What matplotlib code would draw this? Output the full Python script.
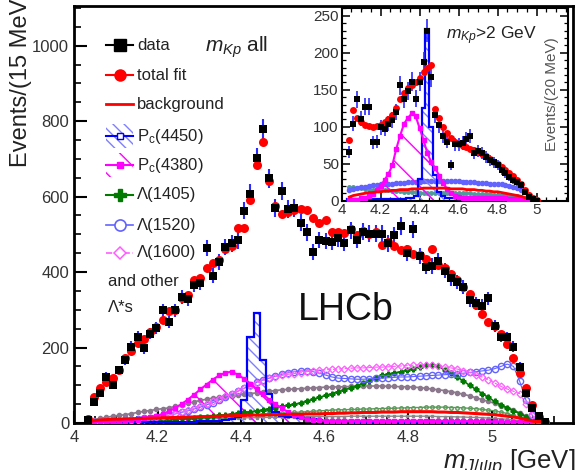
import numpy as np
import matplotlib
matplotlib.use("Agg")
import matplotlib.pyplot as plt
from matplotlib.patches import Rectangle
from matplotlib.ticker import MultipleLocator, FuncFormatter

plt.rcParams["font.family"] = ["Liberation Sans", "DejaVu Sans"]
plt.rcParams["mathtext.fontset"] = "custom"
plt.rcParams["mathtext.rm"] = "Liberation Sans"
plt.rcParams["mathtext.it"] = "Liberation Sans:italic"
plt.rcParams["mathtext.bf"] = "Liberation Sans:bold"
plt.rcParams["hatch.linewidth"] = 1.0

# =========================================================
# Main plot: m(J/psi p), all m(Kp), 15 MeV bins from 4.025 GeV
# =========================================================
MAIN_LO = 4.025
MAIN_BW = 0.015

DATA = [8, 56, 79, 123, 101, 140, 167, 202, 229, 198,
        237, 251, 299, 268, 299, 334, 328, 365, 372, 463,
        390, 426, 467, 476, 484, 563, 608, 703, 779, 648,
        571, 615, 567, 571, 531, 505, 454, 485, 482, 480,
        489, 478, 511, 485, 507, 502, 502, 502, 476, 498,
        522, 451, 513, 442, 414, 416, 430, 403, 383, 374,
        361, 326, 317, 310, 330, 257, 229, 227, 202, 149,
        80, 41, 18, 3]

TOTAL_FIT = [10, 70, 93, 108, 120, 140, 172, 190, 212, 222,
             240, 255, 272, 298, 300, 330, 340, 380, 385, 410,
             423, 432, 462, 470, 516, 518, 591, 683, 744, 640,
             575, 553, 560, 565, 567, 564, 542, 529, 538, 507,
             507, 503, 515, 498, 510, 500, 505, 472, 480, 470,
             458, 460, 448, 445, 435, 462, 420, 410, 395, 380,
             360, 343, 312, 288, 268, 257, 235, 210, 172, 132,
             92, 48, 16, 3]

BACKGROUND = [4, 6, 8, 9, 10, 10, 11, 11, 12, 12,
              13, 13, 14, 14, 15, 15, 16, 16, 17, 17,
              18, 18, 19, 19, 20, 20, 21, 21, 21, 22,
              22, 22, 23, 23, 23, 24, 24, 24, 25, 25,
              26, 26, 27, 27, 28, 28, 28, 29, 29, 29,
              30, 30, 30, 30, 30, 30, 29, 29, 28, 28,
              27, 26, 25, 24, 23, 22, 20, 18, 16, 13,
              9, 5, 2, 0]

PC4450 = [1, 1, 1, 1, 1, 1, 1, 1, 2, 2,
          2, 2, 2, 2, 3, 3, 3, 3, 4, 4,
          5, 6, 8, 10, 15, 60, 228, 292, 168, 78,
          28, 18, 16, 15, 14, 12, 10, 8, 6, 5,
          4, 4, 4, 3, 3, 3, 3, 3, 3, 3,
          3, 3, 3, 3, 3, 3, 3, 3, 3, 3,
          3, 3, 3, 2, 2, 2, 2, 2, 2, 2,
          1, 1, 0, 0]

PC4380 = [1, 1, 2, 2, 3, 4, 5, 7, 9, 12,
          15, 19, 24, 31, 40, 50, 62, 75, 89, 102,
          115, 126, 133, 136, 128, 117, 104, 90, 76, 62,
          50, 39, 29, 21, 15, 11, 8, 7, 6, 6,
          6, 6, 6, 6, 6, 6, 6, 6, 6, 6,
          6, 6, 6, 6, 6, 6, 6, 6, 6, 5,
          5, 5, 5, 5, 4, 4, 4, 3, 3, 2,
          2, 1, 1, 0]

L1405 = [2, 3, 3, 4, 4, 5, 5, 6, 6, 7,
         8, 8, 9, 10, 11, 12, 13, 14, 15, 17,
         18, 20, 22, 24, 26, 28, 30, 32, 35, 38,
         41, 44, 47, 50, 53, 58, 63, 68, 73, 78,
         83, 88, 93, 98, 106, 112, 119, 126, 130, 133,
         136, 140, 144, 149, 153, 155, 150, 141, 132, 122,
         111, 100, 89, 78, 68, 57, 48, 40, 33, 25,
         17, 9, 3, 0]

L1520 = [1, 2, 3, 4, 5, 6, 7, 8, 10, 12,
         14, 16, 18, 21, 24, 28, 32, 37, 42, 48,
         54, 61, 68, 76, 84, 92, 100, 108, 114, 119,
         124, 129, 133, 136, 138, 138, 136, 132, 127, 122,
         119, 118, 117, 116, 116, 117, 118, 119, 120, 121,
         122, 122, 123, 124, 125, 126, 127, 128, 129, 130,
         132, 134, 136, 138, 140, 144, 150, 156, 150, 110,
         60, 20, 5, 0]

L1600 = [1, 2, 3, 4, 5, 6, 7, 8, 9, 11,
         13, 15, 18, 21, 25, 29, 34, 39, 45, 51,
         57, 64, 71, 78, 85, 92, 99, 106, 112, 118,
         123, 126, 129, 131, 133, 136, 138, 140, 141, 142,
         143, 144, 145, 146, 146, 147, 148, 148, 149, 150,
         151, 152, 153, 154, 154, 153, 151, 149, 146, 143,
         139, 134, 128, 122, 115, 106, 97, 90, 84, 78,
         50, 20, 5, 0]

OTHER_LSTAR = [6, 9, 12, 15, 18, 20, 22, 25, 28, 31,
               33, 36, 38, 40, 44, 48, 52, 56, 60, 63,
               66, 68, 70, 72, 74, 76, 78, 80, 82, 84,
               86, 88, 89, 90, 91, 92, 93, 94, 95, 95,
               96, 96, 97, 97, 98, 98, 98, 98, 97, 97,
               96, 96, 95, 94, 92, 90, 88, 86, 83, 80,
               76, 72, 67, 62, 57, 52, 46, 40, 34, 27,
               18, 9, 3, 0]

OTHER_GREEN = [2, 2, 3, 3, 4, 4, 5, 5, 6, 6,
               7, 7, 8, 9, 10, 10, 11, 12, 13, 14,
               15, 16, 17, 18, 19, 20, 21, 22, 23, 24,
               25, 26, 27, 28, 29, 30, 31, 32, 33, 34,
               35, 35, 36, 36, 37, 37, 38, 38, 39, 39,
               40, 40, 41, 41, 42, 42, 42, 42, 41, 41,
               40, 39, 38, 36, 34, 32, 29, 25, 20, 15,
               10, 5, 2, 0]

OTHER_GREY = [1, 2, 3, 3, 4, 5, 5, 6, 6, 7,
              7, 8, 8, 9, 9, 10, 10, 11, 11, 12,
              12, 12, 13, 13, 13, 14, 14, 14, 15, 15,
              15, 15, 16, 16, 16, 16, 17, 17, 17, 17,
              17, 17, 18, 18, 18, 18, 18, 18, 18, 18,
              18, 18, 18, 18, 18, 18, 17, 17, 17, 16,
              16, 15, 15, 14, 13, 12, 11, 10, 8, 6,
              4, 2, 1, 0]

# =========================================================
# Inset: m(Kp) > 2 GeV, 20 MeV bins from 4.03 GeV
# =========================================================
INSET_LO = 4.03
INSET_BW = 0.02

INSET_DATA = [66, 104, 137, 111, 127, 127, 79, 80, 99, 97,
              104, 109, 120, 156, 137, 149, 161, 138, 161, 188,
              230, 167, 116, 102, 88, 80, 48, 76, 76, 78,
              84, 87, 65, 67, 64, 59, 55, 52, 48, 41,
              37, 32, 28, 25, 21, 12, 5, 2, 0]

INSET_FIT = [82, 122, 112, 106, 103, 101, 100, 101, 103, 106,
             110, 116, 126, 138, 146, 152, 156, 160, 166, 174,
             180, 183, 124, 112, 100, 92, 85, 80, 77, 74,
             72, 70, 68, 66, 63, 60, 57, 53, 50, 46,
             42, 38, 33, 28, 22, 15, 8, 3, 1]

INSET_BKG = [5, 7, 8, 9, 10, 11, 11, 12, 12, 13,
             13, 14, 14, 15, 15, 15, 16, 16, 16, 17,
             17, 17, 17, 17, 17, 17, 16, 16, 16, 16,
             15, 15, 15, 14, 14, 13, 13, 12, 12, 11,
             10, 9, 8, 7, 6, 4, 3, 1, 0]

INSET_PC4450 = [2, 2, 2, 2, 2, 2, 2, 2, 2, 2,
                2, 2, 2, 2, 2, 3, 3, 6, 30, 125,
                232, 100, 35, 12, 6, 3, 3, 3, 2, 2,
                2, 2, 2, 2, 2, 2, 2, 2, 2, 2,
                1, 1, 1, 1, 1, 1, 1, 0, 0]

INSET_PC4380 = [1, 1, 1, 3, 4, 6, 9, 14, 20, 28,
                36, 48, 70, 88, 104, 112, 118, 114, 98, 82,
                64, 52, 44, 34, 24, 16, 11, 7, 5, 4,
                4, 4, 4, 3, 3, 3, 3, 3, 3, 3,
                3, 2, 2, 2, 2, 1, 1, 0, 0]

INSET_L1520 = [14, 16, 17, 18, 19, 20, 21, 21, 22, 22,
               23, 23, 24, 24, 24, 25, 25, 25, 25, 26,
               26, 26, 26, 26, 26, 26, 26, 26, 26, 25,
               25, 25, 25, 24, 24, 24, 23, 23, 22, 22,
               21, 20, 19, 17, 15, 12, 8, 3, 0]

INSET_OTHER = [18, 18, 17, 17, 16, 16, 15, 15, 14, 14,
               14, 13, 13, 13, 12, 12, 12, 12, 11, 11,
               11, 11, 11, 10, 10, 10, 10, 10, 10, 10,
               10, 10, 9, 9, 9, 9, 9, 8, 8, 8,
               8, 7, 7, 6, 5, 4, 3, 1, 0]

BLUE = "#0000ff"
BLUE_HATCH = "#7f7fff"
ERR_BLUE = "#2a2aff"
MAGENTA = "#ff00ff"
GREEN = "#007a00"
L1520_COLOR = "#6262ff"
L1600_COLOR = "#ff5cff"
TAUPE = "#8c788c"
DKGREEN = "#5a9a5a"
GREY = "#8a8a8a"
TEAL = "#4f9a9a"
TICK_COLOR = "#333333"


def bin_grid(lo, bw, n):
    edges = lo + bw * np.arange(n + 1)
    centers = 0.5 * (edges[:-1] + edges[1:])
    return edges, centers


def style_axes(ax, lw, major_len, minor_len, labelsize, all_sides=False):
    for sp in ax.spines.values():
        sp.set_linewidth(lw)
    ax.tick_params(which="both", direction="in", colors="black",
                   labelcolor=TICK_COLOR, labelsize=labelsize,
                   top=all_sides, right=all_sides)
    ax.tick_params(which="major", length=major_len, width=lw * 0.75)
    ax.tick_params(which="minor", length=minor_len, width=lw * 0.6)
    ax.xaxis.set_major_formatter(FuncFormatter(lambda v, p: f"{v:g}"))


def draw_components(ax, edges, centers, pc4450, pc4380, ms):
    # Pc(4450): hatched step histogram
    ax.stairs(pc4450, edges, fill=True, facecolor="none",
              edgecolor=BLUE_HATCH, hatch="\\\\\\", linewidth=0, zorder=2)
    ax.stairs(pc4450, edges, color=BLUE, linewidth=1.6, zorder=3)
    # Pc(4380): hatched curve with small markers
    ax.fill_between(centers, 0, pc4380, facecolor="none", edgecolor=MAGENTA,
                    hatch="\\", linewidth=0, zorder=2)
    ax.plot(centers, pc4380, color=MAGENTA, lw=1.5, marker="s", ms=ms,
            zorder=3)


fig = plt.figure(figsize=(5.86, 4.70), dpi=100)
ax = fig.add_axes([0.1263, 0.1, 0.8515, 0.8872])

edges, centers = bin_grid(MAIN_LO, MAIN_BW, len(DATA))

ax.plot(centers, OTHER_GREY, color=GREY, lw=1, marker="s", ms=2, zorder=2)
ax.plot(centers, OTHER_GREEN, color=DKGREEN, lw=1, marker="o", ms=2.5,
        mfc="none", zorder=2)
ax.plot(centers, OTHER_LSTAR, color=TAUPE, lw=1.2, marker="o", ms=3,
        zorder=2)
ax.plot(centers, L1405, color=GREEN, lw=1.2, marker="P", ms=3.5, zorder=3)
ax.plot(centers, L1520, color=L1520_COLOR, lw=0.8, marker="o", ms=4.5,
        mfc="none", mew=1.0, zorder=3)
ax.plot(centers, L1600, color=L1600_COLOR, lw=0.8, ls="--", marker="D",
        ms=3.5, mfc="none", mew=0.9, zorder=3)
draw_components(ax, edges, centers, PC4450, PC4380, ms=2.5)
ax.plot(centers, BACKGROUND, color="red", lw=2.2, zorder=4)

data = np.array(DATA, dtype=float)
ax.errorbar(centers, data, yerr=np.sqrt(data), fmt="none", ecolor=ERR_BLUE,
            elinewidth=1.5, capsize=0, zorder=5)
ax.plot(centers, TOTAL_FIT, "o", color="red", ms=6.5, mew=0, zorder=6)
ax.plot(centers, data, "s", color="black", ms=6, mew=0, zorder=7)

ax.set_xlim(4.0, 5.195)
ax.set_ylim(0, 1105)
ax.xaxis.set_major_locator(MultipleLocator(0.2))
ax.xaxis.set_minor_locator(MultipleLocator(0.05))
ax.yaxis.set_major_locator(MultipleLocator(200))
ax.yaxis.set_minor_locator(MultipleLocator(50))
style_axes(ax, 2.0, 9, 5, 12)
ax.tick_params(axis="x", pad=5)

# legend drawn by hand (ROOT style)
mx, dx, tx = 0.092, 0.027, 0.127
tr = ax.transAxes
rows = [0.9065, 0.8345, 0.765, 0.688, 0.6187, 0.5468, 0.4748, 0.4077]

y = rows[0]
ax.plot([mx - dx, mx + dx], [y, y], color="black", lw=1.5, transform=tr)
ax.plot([mx], [y], "s", color="black", ms=8, transform=tr)
y = rows[1]
ax.plot([mx - dx, mx + dx], [y, y], color="red", lw=1.5, transform=tr)
ax.plot([mx], [y], "o", color="red", ms=9, mew=0, transform=tr)
y = rows[2]
ax.plot([mx - dx, mx + dx], [y, y], color="red", lw=2, transform=tr)
y = rows[3]
ax.add_patch(Rectangle((mx - dx, y - 0.028), 2 * dx, 0.056, transform=tr,
                       facecolor="none", edgecolor=BLUE_HATCH,
                       hatch="\\\\\\", linewidth=0))
ax.plot([mx - dx, mx + dx], [y, y], color=BLUE, lw=1.5, transform=tr)
ax.plot([mx], [y], "s", color=BLUE, mfc="white", ms=5, transform=tr)
y = rows[4]
ax.add_patch(Rectangle((mx - dx, y - 0.028), 2 * dx, 0.056, transform=tr,
                       facecolor="none", edgecolor=MAGENTA, hatch="\\",
                       linewidth=0))
ax.plot([mx - dx, mx + dx], [y, y], color=MAGENTA, lw=1.5, transform=tr)
ax.plot([mx], [y], "s", color=MAGENTA, ms=5, transform=tr)
y = rows[5]
ax.plot([mx - dx, mx + dx], [y, y], color=GREEN, lw=1.5, transform=tr)
ax.plot([mx], [y], "P", color=GREEN, ms=9, transform=tr)
y = rows[6]
ax.plot([mx - dx, mx + dx], [y, y], color=L1520_COLOR, lw=1.2, transform=tr)
ax.plot([mx], [y], "o", color=L1520_COLOR, mfc="white", ms=8, mew=1.2,
        transform=tr)
y = rows[7]
ax.plot([mx - dx, mx + dx], [y, y], color=L1600_COLOR, lw=1.2, ls="--",
        transform=tr)
ax.plot([mx], [y], "D", color=L1600_COLOR, mfc="white", ms=6, mew=1.1,
        transform=tr)

labels = ["data", "total fit", "background", r"P$_\mathrm{c}$(4450)",
          r"P$_\mathrm{c}$(4380)", "Λ(1405)", "Λ(1520)", "Λ(1600)"]
for yy, lab in zip(rows, labels):
    ax.text(tx, yy, lab, transform=tr, fontsize=12, va="center", ha="left",
            color="#222222")
ax.text(0.068, 0.3405, "and other", transform=tr, fontsize=12, va="center",
        color="#222222")
ax.text(0.068, 0.2758, "Λ*s", transform=tr, fontsize=12, va="center",
        color="#222222")

ax.text(0.2625, 0.89, r"$m_{Kp}$ all", transform=tr, fontsize=15,
        va="baseline", ha="left", color="#222222")
ax.text(0.449, 0.271, "LHCb", transform=tr, fontsize=27, va="center",
        ha="left", color="#111111")

fig.text(0.036, 1.02, "Events/(15 MeV)", rotation=90, ha="center", va="top",
         fontsize=17, color="#222222")
fig.text(0.982, 0.002, r"$m_{J/\psi p}$ [GeV]", ha="right", va="baseline",
         fontsize=18.5, color="#222222")

# =========================================================
# Inset
# =========================================================
axi = fig.add_axes([0.583, 0.573, 0.386, 0.409])
axi.set_facecolor("white")
iedges, icenters = bin_grid(INSET_LO, INSET_BW, len(INSET_DATA))

axi.plot(icenters, INSET_OTHER, color=TEAL, lw=1, marker="o", ms=2.5,
         zorder=2)
axi.plot(icenters, INSET_L1520, color=L1520_COLOR, lw=1, marker="o", ms=3,
         zorder=2)
draw_components(axi, iedges, icenters, INSET_PC4450, INSET_PC4380, ms=2.2)
axi.plot(icenters, INSET_BKG, color="red", lw=2, zorder=4)

idata = np.array(INSET_DATA, dtype=float)
axi.errorbar(icenters, idata, yerr=np.sqrt(idata), fmt="none",
             ecolor=ERR_BLUE, elinewidth=1.2, capsize=0, zorder=5)
axi.plot(icenters, INSET_FIT, "o", color="red", ms=5, mew=0, zorder=6)
axi.plot(icenters, idata, "s", color="black", ms=5, mew=0, zorder=7)

axi.set_xlim(4.0, 5.16)
axi.set_ylim(0, 260)
axi.xaxis.set_major_locator(MultipleLocator(0.2))
axi.xaxis.set_minor_locator(MultipleLocator(0.05))
axi.yaxis.set_major_locator(MultipleLocator(50))
axi.yaxis.set_minor_locator(MultipleLocator(10))
style_axes(axi, 1.5, 6, 3, 11, all_sides=True)
axi.tick_params(pad=2)

axi.text(0.46, 0.84, r"$m_{Kp}$>2 GeV", transform=axi.transAxes,
         fontsize=12.5, va="baseline", ha="left", color="#222222")
axi.text(0.93, 0.85, "Events/(20 MeV)", transform=axi.transAxes,
         rotation=90, fontsize=11, va="top", ha="center", color="#555555")

fig.savefig("out.png", dpi=100)
